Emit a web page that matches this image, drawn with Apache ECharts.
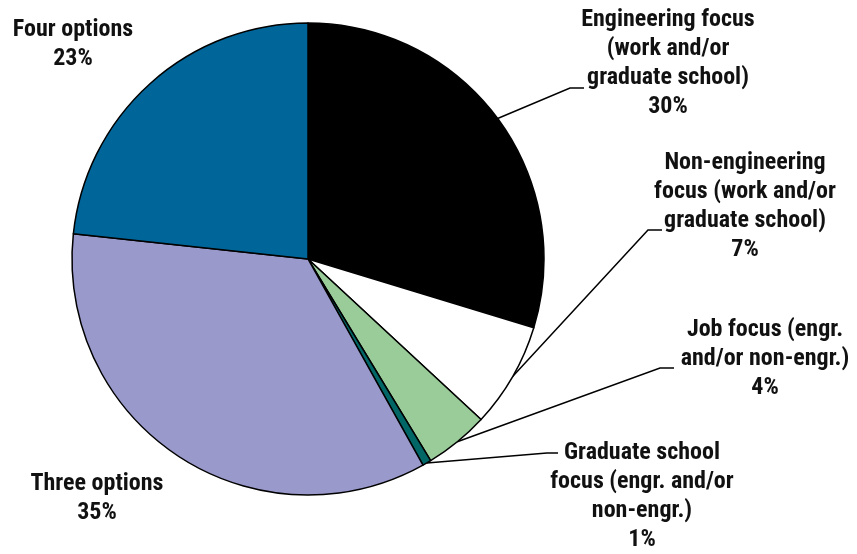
<!DOCTYPE html>
<html>
<head>
<meta charset="utf-8">
<script src="https://cdn.jsdelivr.net/npm/echarts@6/dist/echarts.min.js"></script>
<style>
  html, body { margin: 0; padding: 0; background: #fff; }
  #chart { width: 857px; height: 554px; }
</style>
</head>
<body>
<div id="chart"></div>
<script>
// slice names (line breaks as in the picture) and shares, clockwise from 12 o'clock
const categories = [
  'Engineering focus\n(work and/or\ngraduate school)',
  'Non-engineering\nfocus (work and/or\ngraduate school)',
  'Job focus (engr.\nand/or non-engr.)',
  'Graduate school\nfocus (engr. and/or\nnon-engr.)',
  'Three options',
  'Four options'
];
const shares = [29.7, 7.2, 4.4, 0.6, 34.8, 23.3];
const colors = ['#000000', '#ffffff', '#99cc99', '#006666', '#9999cc', '#006699'];

// where each label block sits, and the bend of its leader line (null = no leader)
const labelSpots = [
  { pos: [668, 63],  bend: [570, 88],  end: 584 },
  { pos: [745, 206], bend: [648, 230], end: 662 },
  { pos: [765, 359], bend: [660, 368], end: 674 },
  { pos: [642, 496], bend: [547, 453], end: 558 },
  { pos: [97, 498],  bend: null },
  { pos: [73, 44],   bend: null }
];

const chart = echarts.init(document.getElementById('chart'));

const option = {
  animation: false,
  series: [
    {
      type: 'pie',
      center: [308, 259],
      radius: 236,
      startAngle: 90,
      clockwise: true,
      avoidLabelOverlap: false,
      emphasis: { disabled: true },
      itemStyle: { borderColor: '#000', borderWidth: 1.5 },
      label: {
        show: true,
        position: 'outside',
        formatter: p => p.name + '\n' + Math.round(p.percent) + '%',
        color: '#111',
        fontFamily: '"Roboto Condensed", "DejaVu Sans Condensed", sans-serif',
        fontWeight: 'bold',
        fontSize: 24,
        lineHeight: 29,
        align: 'center'
      },
      labelLine: {
        show: true,
        lineStyle: { color: '#000', width: 1.5 }
      },
      labelLayout: params => {
        const spot = labelSpots[params.dataIndex];
        const out = { x: spot.pos[0], y: spot.pos[1], align: 'center', verticalAlign: 'middle' };
        if (spot.bend && params.labelLinePoints) {
          const a = params.labelLinePoints[0];
          out.labelLinePoints = [a, spot.bend, [spot.end, spot.bend[1]]];
        }
        return out;
      },
      data: categories.map((name, i) => ({
        name: name,
        value: shares[i],
        itemStyle: { color: colors[i] },
        labelLine: { show: labelSpots[i].bend !== null }
      }))
    }
  ]
};

chart.setOption(option);
</script>
</body>
</html>
